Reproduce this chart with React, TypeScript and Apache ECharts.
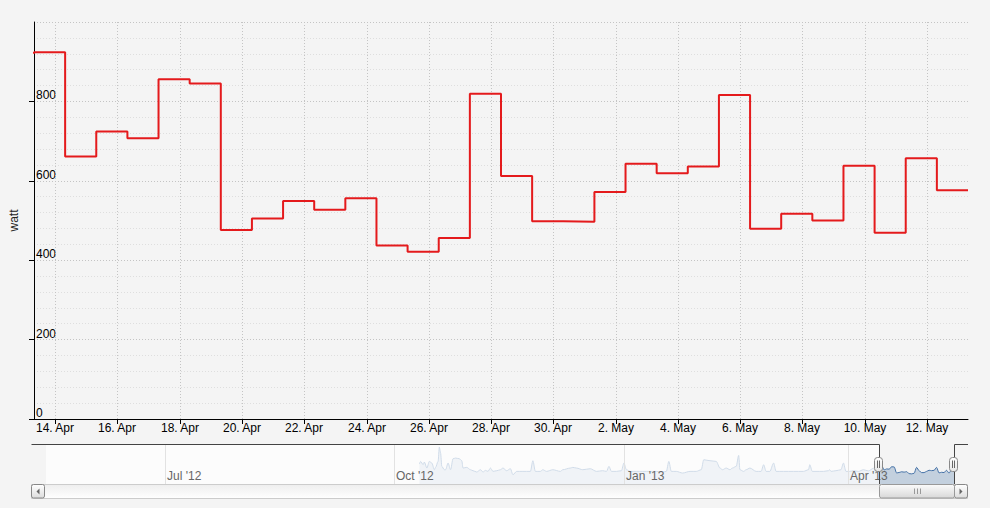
import React, { useEffect, useRef } from 'react';
import * as echarts from 'echarts';

// ---------- main series (daily step values, watt) ----------
const mainDates = [
  '2013-04-13T07:40:00Z', '2013-04-14T07:40:00Z', '2013-04-15T07:40:00Z', '2013-04-16T07:40:00Z',
  '2013-04-17T07:40:00Z', '2013-04-18T07:40:00Z', '2013-04-19T07:40:00Z', '2013-04-20T07:40:00Z',
  '2013-04-21T07:40:00Z', '2013-04-22T07:40:00Z', '2013-04-23T07:40:00Z', '2013-04-24T07:40:00Z',
  '2013-04-25T07:40:00Z', '2013-04-26T07:40:00Z', '2013-04-27T07:40:00Z', '2013-04-28T07:40:00Z',
  '2013-04-29T07:40:00Z', '2013-04-30T07:40:00Z', '2013-05-01T07:40:00Z', '2013-05-02T07:40:00Z',
  '2013-05-03T07:40:00Z', '2013-05-04T07:40:00Z', '2013-05-05T07:40:00Z', '2013-05-06T07:40:00Z',
  '2013-05-07T07:40:00Z', '2013-05-08T07:40:00Z', '2013-05-09T07:40:00Z', '2013-05-10T07:40:00Z',
  '2013-05-11T07:40:00Z', '2013-05-12T07:40:00Z', '2013-05-13T07:40:00Z',
];
const mainValues = [
  920, 924, 661, 724, 707, 856, 845, 476, 505, 549, 527, 556, 437, 421, 456, 819,
  612, 498, 497, 572, 643, 619, 636, 816, 479, 517, 500, 638, 469, 657, 576,
];

// ---------- main axis ticks ----------
const mainTickDates = [
  '2013-04-14T00:00:00Z', '2013-04-16T00:00:00Z', '2013-04-18T00:00:00Z', '2013-04-20T00:00:00Z',
  '2013-04-22T00:00:00Z', '2013-04-24T00:00:00Z', '2013-04-26T00:00:00Z', '2013-04-28T00:00:00Z',
  '2013-04-30T00:00:00Z', '2013-05-02T00:00:00Z', '2013-05-04T00:00:00Z', '2013-05-06T00:00:00Z',
  '2013-05-08T00:00:00Z', '2013-05-10T00:00:00Z', '2013-05-12T00:00:00Z',
];
const mainTickLabels = [
  '14. Apr', '16. Apr', '18. Apr', '20. Apr', '22. Apr', '24. Apr', '26. Apr', '28. Apr',
  '30. Apr', '2. May', '4. May', '6. May', '8. May', '10. May', '12. May',
];
const yMin = 0;
const yMax = 1000;
const yStep = 200;

// ---------- navigator (overview) series ----------
const navDates = [
  '2012-10-11T00:00:00Z', '2012-10-11T12:00:00Z', '2012-10-12T12:00:00Z', '2012-10-13T00:00:00Z',
  '2012-10-14T00:00:00Z', '2012-10-15T00:00:00Z', '2012-10-16T00:00:00Z', '2012-10-17T00:00:00Z',
  '2012-10-17T12:00:00Z', '2012-10-18T12:00:00Z', '2012-10-19T00:00:00Z', '2012-10-19T12:00:00Z',
  '2012-10-20T00:00:00Z', '2012-10-21T00:00:00Z', '2012-10-21T12:00:00Z', '2012-10-22T12:00:00Z',
  '2012-10-23T12:00:00Z', '2012-10-24T12:00:00Z', '2012-10-25T12:00:00Z', '2012-10-27T00:00:00Z',
  '2012-10-28T00:00:00Z', '2012-10-28T12:00:00Z', '2012-10-30T00:00:00Z', '2012-10-31T12:00:00Z',
  '2012-11-01T12:00:00Z', '2012-11-03T00:00:00Z', '2012-11-04T12:00:00Z', '2012-11-05T12:00:00Z',
  '2012-11-06T12:00:00Z', '2012-11-07T12:00:00Z', '2012-11-08T12:00:00Z', '2012-11-09T12:00:00Z',
  '2012-11-11T00:00:00Z', '2012-11-12T12:00:00Z', '2012-11-13T12:00:00Z', '2012-11-15T00:00:00Z',
  '2012-11-16T12:00:00Z', '2012-11-17T12:00:00Z', '2012-11-19T00:00:00Z', '2012-11-21T12:00:00Z',
  '2012-11-24T12:00:00Z', '2012-11-25T12:00:00Z', '2012-11-26T12:00:00Z', '2012-11-28T12:00:00Z',
  '2012-11-29T12:00:00Z', '2012-12-01T00:00:00Z', '2012-12-03T12:00:00Z', '2012-12-06T12:00:00Z',
  '2012-12-07T12:00:00Z', '2012-12-10T12:00:00Z', '2012-12-11T12:00:00Z', '2012-12-13T00:00:00Z',
  '2012-12-15T12:00:00Z', '2012-12-18T12:00:00Z', '2012-12-21T00:00:00Z', '2012-12-23T12:00:00Z',
  '2012-12-25T00:00:00Z', '2012-12-26T00:00:00Z', '2012-12-27T00:00:00Z', '2012-12-29T00:00:00Z',
  '2012-12-31T00:00:00Z', '2013-01-01T00:00:00Z', '2013-01-02T00:00:00Z', '2013-01-03T12:00:00Z',
  '2013-01-06T00:00:00Z', '2013-01-08T12:00:00Z', '2013-01-11T12:00:00Z', '2013-01-14T00:00:00Z',
  '2013-01-16T12:00:00Z', '2013-01-18T00:00:00Z', '2013-01-19T00:00:00Z', '2013-01-20T00:00:00Z',
  '2013-01-22T00:00:00Z', '2013-01-24T12:00:00Z', '2013-01-27T12:00:00Z', '2013-01-30T00:00:00Z',
  '2013-02-01T00:00:00Z', '2013-02-02T00:00:00Z', '2013-02-04T12:00:00Z', '2013-02-07T00:00:00Z',
  '2013-02-08T12:00:00Z', '2013-02-09T12:00:00Z', '2013-02-11T00:00:00Z', '2013-02-12T12:00:00Z',
  '2013-02-13T12:00:00Z', '2013-02-15T00:00:00Z', '2013-02-16T00:00:00Z', '2013-02-16T12:00:00Z',
  '2013-02-18T00:00:00Z', '2013-02-19T00:00:00Z', '2013-02-20T12:00:00Z', '2013-02-23T00:00:00Z',
  '2013-02-25T00:00:00Z', '2013-02-26T00:00:00Z', '2013-02-27T00:00:00Z', '2013-02-28T12:00:00Z',
  '2013-03-02T00:00:00Z', '2013-03-03T00:00:00Z', '2013-03-06T00:00:00Z', '2013-03-10T00:00:00Z',
  '2013-03-14T00:00:00Z', '2013-03-16T00:00:00Z', '2013-03-16T12:00:00Z', '2013-03-17T12:00:00Z',
  '2013-03-19T00:00:00Z', '2013-03-22T00:00:00Z', '2013-03-24T00:00:00Z', '2013-03-24T12:00:00Z',
  '2013-03-25T00:00:00Z', '2013-03-27T00:00:00Z', '2013-03-29T00:00:00Z', '2013-03-30T00:00:00Z',
  '2013-03-31T00:00:00Z', '2013-04-01T12:00:00Z', '2013-04-03T00:00:00Z', '2013-04-05T00:00:00Z',
  '2013-04-07T00:00:00Z', '2013-04-09T00:00:00Z', '2013-04-11T00:00:00Z',
];
const navValues = [
  1022, 1185, 981, 1144, 777, 1185, 1083, 675, 818, 1185, 2062, 1695, 879, 675, 675, 1083,
  675, 1350, 1389, 1350, 1226, 777, 818, 675, 614, 533, 675, 533, 634, 573, 777, 573,
  614, 675, 777, 614, 736, 369, 573, 573, 573, 1226, 573, 573, 675, 573, 675, 573,
  675, 777, 818, 777, 675, 736, 573, 614, 573, 879, 573, 573, 614, 1083, 675, 573,
  573, 573, 573, 573, 533, 573, 1185, 573, 573, 471, 573, 573, 675, 1287, 1226, 1185,
  777, 675, 777, 675, 777, 879, 1552, 675, 573, 675, 777, 573, 573, 981, 573, 573,
  1083, 573, 573, 573, 573, 675, 981, 573, 573, 573, 614, 675, 573, 614, 675, 1083,
  573, 573, 614, 573, 675, 600, 760,
];
const navStart = '2012-05-14T07:40:00Z';
const navEnd = '2013-05-13T07:40:00Z';
const navTickDates = ['2012-07-01T00:00:00Z', '2012-10-01T00:00:00Z', '2013-01-01T00:00:00Z', '2013-04-01T00:00:00Z'];
const navTickLabels = ["Jul '12", "Oct '12", "Jan '13", "Apr '13"];
const navYMin = -200;
const navYMax = 2250;

const FONT = '"Liberation Sans", Arial, sans-serif';

export default function App() {
  const ref = useRef<HTMLDivElement>(null);

  useEffect(() => {
    document.body.style.margin = '0';
    const chart = echarts.init(ref.current as HTMLDivElement, null, { renderer: 'svg' });
    const t = (s: string) => Date.parse(s);
    const tMin = t(mainDates[0]);
    const tMax = t(mainDates[mainDates.length - 1]);
    const tNav0 = t(navStart);
    const tNav1 = t(navEnd);

    const grad = (a: string, b: string) =>
      new echarts.graphic.LinearGradient(0, 0, 0, 1, [
        { offset: 0, color: a },
        { offset: 1, color: b },
      ]);

    const navData = [
      ...navDates.map((d, i) => [t(d), navValues[i]]),
      ...mainDates.map((d, i) => [t(d), mainValues[i]]),
    ];

    const option: any = {
      animation: false,
      backgroundColor: '#f4f4f4',
      grid: [
        { left: 31, right: 22, top: 22, height: 397 },
        { left: 46, right: 36, top: 444, height: 40 },
      ],
      xAxis: [
        {
          gridIndex: 0,
          type: 'time',
          min: tMin,
          max: tMax,
          axisLine: { show: true, lineStyle: { color: '#000', width: 1 } },
          axisTick: { show: false },
          axisLabel: { show: false },
          splitLine: { show: false },
        },
        { gridIndex: 1, type: 'time', min: tNav0, max: tNav1, show: false },
      ],
      yAxis: [
        {
          gridIndex: 0,
          type: 'value',
          min: yMin,
          max: yMax,
          interval: yStep,
          name: 'watt',
          nameLocation: 'middle',
          nameRotate: 90,
          nameGap: 14,
          nameTextStyle: { color: '#222', fontSize: 12, fontFamily: FONT },
          axisLine: { show: true, lineStyle: { color: '#000', width: 1 } },
          axisTick: { show: true, length: 5, lineStyle: { color: '#000' } },
          axisLabel: {
            inside: true,
            margin: 2,
            showMaxLabel: false,
            color: '#000',
            fontSize: 12,
            fontFamily: FONT,
            verticalAlign: 'bottom',
          },
          splitLine: { show: true, lineStyle: { color: '#c4c4c4', type: [1, 2], width: 1 } },
          minorTick: { show: false, splitNumber: 5 },
          minorSplitLine: { show: true, lineStyle: { color: '#dedede', type: [1, 2], width: 1 } },
        },
        { gridIndex: 1, type: 'value', min: navYMin, max: navYMax, show: false },
      ],
      series: [
        // main x ticks, vertical grid lines, labels
        {
          type: 'custom',
          xAxisIndex: 0,
          yAxisIndex: 0,
          z: 1,
          silent: true,
          clip: false,
          data: mainTickDates.map((d) => [t(d), 0]),
          renderItem: (params: any, api: any) => {
            const cs = params.coordSys;
            const x = Math.round(api.coord([api.value(0), 0])[0]) + 0.5;
            const bottom = cs.y + cs.height;
            return {
              type: 'group',
              children: [
                {
                  type: 'line',
                  shape: { x1: x, y1: cs.y, x2: x, y2: bottom },
                  style: { stroke: '#c4c4c4', lineWidth: 1, lineDash: [1, 2] },
                },
                {
                  type: 'line',
                  shape: { x1: x, y1: bottom, x2: x, y2: bottom + 5 },
                  style: { stroke: '#000', lineWidth: 1 },
                },
                {
                  type: 'text',
                  x: x - 0.5,
                  y: bottom + 3,
                  style: {
                    text: mainTickLabels[params.dataIndex],
                    fill: '#000',
                    font: '12px ' + FONT,
                    align: 'center',
                    verticalAlign: 'top',
                  },
                },
              ],
            };
          },
        },
        // main step line
        {
          type: 'line',
          xAxisIndex: 0,
          yAxisIndex: 0,
          step: 'start',
          showSymbol: false,
          symbol: 'none',
          silent: true,
          z: 3,
          lineStyle: { color: '#e41a1c', width: 2 },
          data: mainDates.map((d, i) => [t(d), mainValues[i]]),
        },
        // navigator area
        {
          type: 'line',
          xAxisIndex: 1,
          yAxisIndex: 1,
          smooth: 0.3,
          smoothMonotone: 'x',
          showSymbol: false,
          symbol: 'none',
          silent: true,
          z: 2,
          lineStyle: { color: '#4572a7', width: 1 },
          areaStyle: { color: 'rgba(69,114,167,0.4)', origin: 'start' },
          data: navData,
        },
        // navigator mask (outside selection)
        {
          type: 'custom',
          xAxisIndex: 1,
          yAxisIndex: 1,
          z: 3,
          silent: true,
          clip: false,
          data: [
            [tNav0, tMin],
            [tMax, tNav1],
          ],
          renderItem: (params: any, api: any) => {
            const cs = params.coordSys;
            const x0 = api.coord([api.value(0), 0])[0];
            const x1 = api.coord([api.value(1), 0])[0];
            return {
              type: 'rect',
              shape: { x: x0, y: cs.y, width: Math.max(0, x1 - x0), height: cs.height },
              style: { fill: 'rgba(255,255,255,0.75)' },
            };
          },
        },
        // navigator ticks + labels
        {
          type: 'custom',
          xAxisIndex: 1,
          yAxisIndex: 1,
          z: 4,
          silent: true,
          clip: false,
          data: navTickDates.map((d) => [t(d), 0]),
          renderItem: (params: any, api: any) => {
            const cs = params.coordSys;
            const x = Math.round(api.coord([api.value(0), 0])[0]) + 0.5;
            return {
              type: 'group',
              children: [
                {
                  type: 'line',
                  shape: { x1: x, y1: cs.y, x2: x, y2: cs.y + cs.height },
                  style: { stroke: '#e2e2e2', lineWidth: 1 },
                },
                {
                  type: 'text',
                  x: x + 1.5,
                  y: cs.y + cs.height - 2,
                  style: {
                    text: navTickLabels[params.dataIndex],
                    fill: '#666',
                    font: '12px ' + FONT,
                    align: 'left',
                    verticalAlign: 'bottom',
                  },
                },
              ],
            };
          },
        },
        // navigator outline + handles
        {
          type: 'custom',
          xAxisIndex: 1,
          yAxisIndex: 1,
          z: 6,
          silent: true,
          clip: false,
          data: [
            [tMin, 0],
            [tMax, 0],
          ],
          renderItem: (params: any, api: any) => {
            const cs = params.coordSys;
            const hx = Math.round(api.coord([api.value(0), 0])[0]);
            const lx = hx + 0.5;
            const top = cs.y + 0.5;
            const bottom = cs.y + cs.height;
            const midY = cs.y + cs.height / 2;
            const outline =
              params.dataIndex === 0
                ? [
                    [cs.x - 14.5, top],
                    [lx, top],
                    [lx, bottom],
                  ]
                : [
                    [lx, bottom],
                    [lx, top],
                    [cs.x + cs.width + 14, top],
                  ];
            return {
              type: 'group',
              children: [
                { type: 'polyline', shape: { points: outline }, style: { stroke: '#444', lineWidth: 1, fill: null } },
                {
                  type: 'rect',
                  shape: { x: hx - 4.5, y: Math.round(midY - 7) + 0.5, width: 8, height: 14, r: 3 },
                  style: { fill: grad('#ffffff', '#e6e6e6'), stroke: '#888', lineWidth: 1 },
                },
                {
                  type: 'line',
                  shape: { x1: hx - 1.5, y1: midY - 3.5, x2: hx - 1.5, y2: midY + 4 },
                  style: { stroke: '#666', lineWidth: 1 },
                },
                {
                  type: 'line',
                  shape: { x1: hx + 0.5, y1: midY - 3.5, x2: hx + 0.5, y2: midY + 4 },
                  style: { stroke: '#666', lineWidth: 1 },
                },
              ],
            };
          },
        },
        // scrollbar thumb
        {
          type: 'custom',
          xAxisIndex: 1,
          yAxisIndex: 1,
          z: 6,
          silent: true,
          clip: false,
          data: [[tMin, tMax]],
          renderItem: (params: any, api: any) => {
            const cs = params.coordSys;
            const x0 = Math.round(api.coord([api.value(0), 0])[0]) + 0.5;
            const x1 = Math.round(api.coord([api.value(1), 0])[0]) + 0.5;
            const y0 = cs.y + cs.height + 0.5;
            const cx = Math.round((x0 + x1) / 2) + 0.5;
            return {
              type: 'group',
              children: [
                {
                  type: 'rect',
                  shape: { x: x0, y: y0, width: x1 - x0, height: 13.5, r: 2 },
                  style: { fill: grad('#fbfbfb', '#d8d8d8'), stroke: '#999', lineWidth: 1 },
                },
                ...[-3, 0, 3].map((dx) => ({
                  type: 'line',
                  shape: { x1: cx + dx, y1: y0 + 4, x2: cx + dx, y2: y0 + 9.5 },
                  style: { stroke: '#999', lineWidth: 1 },
                })),
              ],
            };
          },
        },
      ],
      graphic: [
        // scrollbar track
        {
          type: 'rect',
          shape: { x: 31.5, y: 484.5, width: 936, height: 14 },
          style: { fill: grad('#eeeeee', '#ffffff'), stroke: '#cccccc', lineWidth: 1 },
          z: 0,
        },
        // left button
        {
          type: 'rect',
          shape: { x: 31.5, y: 484.5, width: 13, height: 13.5, r: 2 },
          style: { fill: grad('#ffffff', '#dddddd'), stroke: '#888', lineWidth: 1 },
          z: 1,
        },
        {
          type: 'polygon',
          shape: { points: [[39.5, 488.5], [39.5, 494.5], [36.5, 491.5]] },
          style: { fill: '#666' },
          z: 2,
        },
        // right button
        {
          type: 'rect',
          shape: { x: 954.5, y: 484.5, width: 13, height: 13.5, r: 2 },
          style: { fill: grad('#ffffff', '#dddddd'), stroke: '#888', lineWidth: 1 },
          z: 1,
        },
        {
          type: 'polygon',
          shape: { points: [[959.5, 488.5], [959.5, 494.5], [962.5, 491.5]] },
          style: { fill: '#666' },
          z: 2,
        },
      ],
    };

    chart.setOption(option);
    return () => chart.dispose();
  }, []);

  return (
    <div
      ref={ref}
      style={{ position: 'absolute', left: 0, top: 0, width: 990, height: 508, background: '#f4f4f4' }}
    />
  );
}
